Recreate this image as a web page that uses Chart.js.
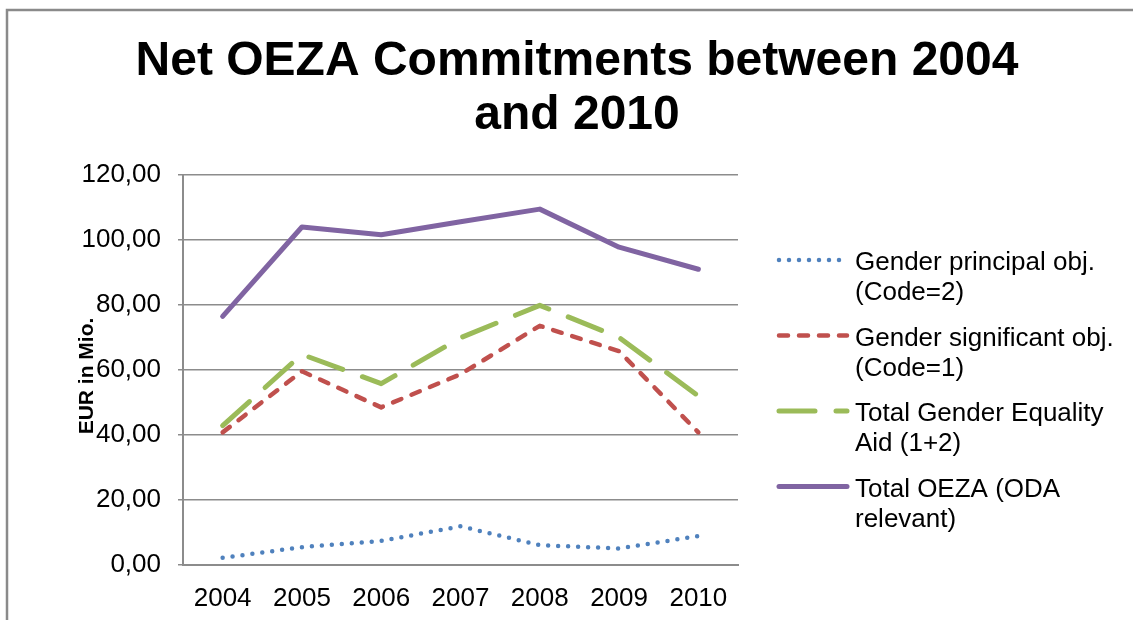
<!DOCTYPE html>
<html>
<head>
<meta charset="utf-8">
<script src="https://cdn.jsdelivr.net/npm/chart.js@4/dist/chart.umd.min.js"></script>
<style>
  html, body { margin: 0; padding: 0; background: #fff; }
  #wrap { width: 1133px; height: 620px; position: relative; }
</style>
</head>
<body>
<div id="wrap"><canvas id="oeza"></canvas></div>
<script>
const years = ['2004', '2005', '2006', '2007', '2008', '2009', '2010']
const principalObj = [2.2, 5.5, 7.4, 11.9, 6.1, 5.1, 8.9]
const significantObj = [40.8, 59.6, 48.5, 58.7, 73.6, 65.8, 40.8]
const totalGender = [42.9, 64.8, 55.8, 69.9, 79.9, 70.0, 52.0]
const totalOeza = [76.5, 104.0, 101.6, 105.6, 109.5, 97.8, 91.0]

const seriesNames = [
  ['Gender principal obj.', '(Code=2)'],
  ['Gender significant obj.', '(Code=1)'],
  ['Total Gender Equality', 'Aid (1+2)'],
  ['Total OEZA (ODA', 'relevant)'],
]
const titleLines = ['Net OEZA Commitments between 2004', 'and 2010']
const yTitle = 'EUR in Mio.'
const yTicks = { min: 0, max: 120, step: 20 }

const FONT = "'Liberation Sans', Arial, sans-serif"
const GRID = '#8c8c8c'

const styles = [
  { color: '#4F81BD', width: 4.5, dash: [0, 10] },
  { color: '#C0504D', width: 4.5, dash: [9, 11] },
  { color: '#9BBB59', width: 5, dash: [36, 21] },
  { color: '#8064A2', width: 5, dash: [] },
]

const series = [principalObj, significantObj, totalGender, totalOeza]
const datasets = series.map((data, i) => ({
  label: seriesNames[i].join(' '),
  data,
  borderColor: styles[i].color,
  backgroundColor: styles[i].color,
  borderWidth: styles[i].width,
  borderDash: styles[i].dash,
  borderCapStyle: 'round',
  borderJoinStyle: 'round',
  pointRadius: 0,
  tension: 0,
  fill: false,
}))

// frame, titles and two-line legend
const decor = {
  id: 'decor',
  beforeDraw(chart) {
    const ctx = chart.ctx
    ctx.save()
    ctx.fillStyle = '#fff'
    ctx.fillRect(0, 0, chart.width, chart.height)
    ctx.strokeStyle = '#8a8a8a'
    ctx.lineWidth = 2.5
    ctx.strokeRect(7, 10, chart.width + 20, chart.height + 20)
    ctx.restore()
  },
  afterDraw(chart) {
    const ctx = chart.ctx
    ctx.save()
    ctx.fillStyle = '#000'
    ctx.textAlign = 'center'
    ctx.textBaseline = 'middle'
    ctx.font = 'bold 48px ' + FONT
    titleLines.forEach((t, i) => ctx.fillText(t, 577, 62 + i * 54))

    // y axis title, a bit below the middle of the axis like the original
    ctx.save()
    ctx.translate(87, 376)
    ctx.rotate(-Math.PI / 2)
    ctx.font = 'bold 21px ' + FONT
    ctx.fillText(yTitle, 0, 0)
    ctx.restore()

    ctx.textAlign = 'left'
    ctx.font = '26px ' + FONT
    chart.data.datasets.forEach((ds, i) => {
      const y = 260 + i * 75.5
      ctx.save()
      ctx.strokeStyle = ds.borderColor
      ctx.lineWidth = ds.borderWidth
      ctx.lineCap = 'round'
      ctx.setLineDash(ds.borderDash)
      ctx.beginPath()
      ctx.moveTo(779, y)
      ctx.lineTo(847, y)
      ctx.stroke()
      ctx.restore()
      seriesNames[i].forEach((line, j) => ctx.fillText(line, 855, y + 3 + j * 30))
    })
    ctx.restore()
  },
}

new Chart(document.querySelector('#oeza'), {
  type: 'line',
  data: { labels: years, datasets },
  plugins: [decor],
  options: {
    responsive: true,
    maintainAspectRatio: false,
    animation: false,
    layout: { padding: { top: 175, right: 395, bottom: 0, left: 0 } },
    plugins: {
      legend: { display: false },
      title: { display: false },
      tooltip: { enabled: false },
    },
    scales: {
      x: {
        offset: true,
        grid: { display: false, drawTicks: false },
        border: { display: true, color: GRID, width: 2 },
        ticks: { color: '#000', padding: 18, font: { family: FONT, size: 26 } },
        afterFit: axis => { axis.height = 55 },
      },
      y: {
        min: yTicks.min,
        max: yTicks.max,
        grid: { color: GRID, lineWidth: 1.5, tickLength: 5 },
        border: { display: true, color: GRID, width: 2 },
        ticks: {
          stepSize: yTicks.step,
          color: '#000',
          padding: 17,
          font: { family: FONT, size: 26 },
          callback: value => value.toFixed(2).replace('.', ','),
        },
        afterFit: axis => { axis.width = 183 },
      },
    },
  },
})
</script>
</body>
</html>
